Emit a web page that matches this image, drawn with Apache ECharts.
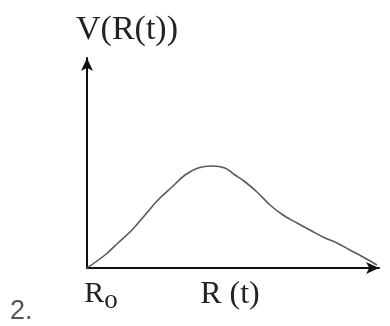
<!DOCTYPE html>
<html>
<head>
<meta charset="utf-8">
<script src="https://cdn.jsdelivr.net/npm/echarts@6/dist/echarts.min.js"></script>
<style>
  html, body { margin: 0; padding: 0; background: #fff; }
  #main { width: 390px; height: 326px; }
</style>
</head>
<body>
<div id="main"></div>
<script>
const rValues = [0, 18, 31, 45, 58, 71, 85, 98, 111, 125, 138, 148, 157, 170, 183, 196, 210, 223, 236, 250, 263, 276, 290];
const vValues = [0, 13, 25, 38, 53, 68, 81, 93, 100, 102, 100, 93, 87, 76, 63, 53, 45, 38, 31, 25, 18, 11, 3];
const xMax = 292;
const yMax = 210;

const serif = "'Liberation Serif', 'DejaVu Serif', serif";

document.addEventListener("DOMContentLoaded", function() {
  const chart = echarts.init(document.getElementById("main"), null, { renderer: "canvas" });
  const points = rValues.map((r, i) => [r, vValues[i]]);

  chart.setOption({
    animation: false,
    backgroundColor: "#fff",
    grid: { left: 87, right: 11, top: 58, bottom: 58, outerBoundsMode: "none", containLabel: false },
    xAxis: {
      type: "value",
      min: 0,
      max: xMax,
      interval: xMax,
      splitLine: { show: false },
      axisTick: { show: false },
      axisLine: {
        lineStyle: { color: "#111", width: 2 },
        symbol: ["none", "arrow"],
        symbolSize: [9, 13]
      },
      axisLabel: {
        margin: 7,
        fontFamily: serif,
        fontSize: 30,
        color: "#222",
        padding: [0, 0, 0, 28],
        formatter: v => (v === 0 ? "{r|R}{o|o}" : ""),
        rich: {
          r: { fontFamily: serif, fontSize: 30, color: "#222" },
          o: { fontFamily: serif, fontSize: 27, color: "#222", padding: [12, 0, 0, 0] }
        }
      },
      name: "R (t)",
      nameLocation: "middle",
      nameGap: 11,
      nameMoveOverlap: false,
      nameTextStyle: { fontFamily: serif, fontSize: 32, color: "#222", padding: [0, 6, 0, 0] }
    },
    yAxis: {
      type: "value",
      min: 0,
      max: yMax,
      splitLine: { show: false },
      axisTick: { show: false },
      axisLabel: { show: false },
      axisLine: {
        lineStyle: { color: "#111", width: 2 },
        symbol: ["none", "arrow"],
        symbolSize: [9, 13]
      },
      name: "V(R(t))",
      nameLocation: "end",
      nameGap: 11,
      nameMoveOverlap: false,
      nameTextStyle: { fontFamily: serif, fontSize: 34, color: "#222", align: "left", padding: [0, 0, 0, -11] }
    },
    series: [{
      type: "line",
      data: points,
      smooth: 0.4,
      showSymbol: false,
      lineStyle: { color: "#5a5a5a", width: 1.6 }
    }],
    graphic: [{
      type: "text",
      left: 10,
      top: 298,
      style: { text: "2.", fontFamily: "'Liberation Sans', sans-serif", fontSize: 27, fill: "#555" }
    }]
  });
});
</script>
</body>
</html>
